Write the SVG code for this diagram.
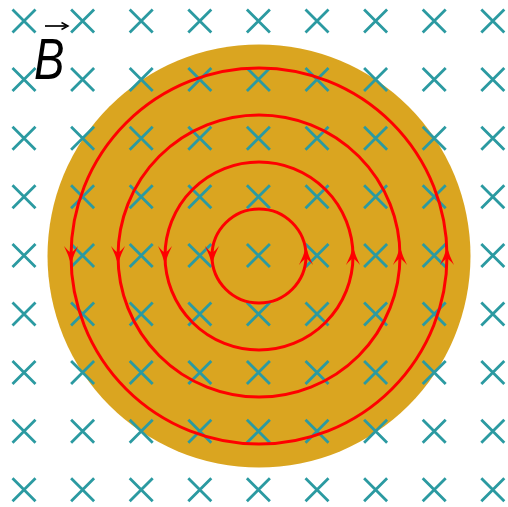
<svg xmlns="http://www.w3.org/2000/svg" width="508" height="507" viewBox="0 0 508 507">
<style>
.x{stroke:#2b9aa1;stroke-width:2.8;fill:none;stroke-linecap:butt}
.loop{fill:none;stroke:#ff0000;stroke-width:3}
.head{fill:#ff0000}
.lbl{font-family:"Liberation Sans",Arial,sans-serif;font-style:italic;font-size:57px;fill:#000}
</style>
<defs>
<path id="x" class="x" d="M-11.5,-11.5L11.5,11.5M-11.5,11.5L11.5,-11.5"/>
<path id="down" class="head" d="M0,0 Q-2.5,-9 -7,-18 Q-2.5,-12.5 0,-11.5 Q2.5,-12.5 7,-18 Q2.5,-9 0,0Z"/>
<path id="up" class="head" d="M0,0 Q-2.5,9 -7,18 Q-2.5,12.5 0,11.5 Q2.5,12.5 7,18 Q2.5,9 0,0Z"/>
</defs>
<rect width="508" height="507" fill="#fff"/>
<g id="disk"><circle cx="259" cy="256" r="211.5" fill="#daa520"/></g>
<g id="field">
<use href="#x" x="24" y="21"/><use href="#x" x="82.6" y="21"/><use href="#x" x="141.2" y="21"/><use href="#x" x="199.8" y="21"/><use href="#x" x="258.4" y="21"/><use href="#x" x="317" y="21"/><use href="#x" x="375.6" y="21"/><use href="#x" x="434.2" y="21"/><use href="#x" x="492.8" y="21"/>
<use href="#x" x="24" y="79.6"/><use href="#x" x="82.6" y="79.6"/><use href="#x" x="141.2" y="79.6"/><use href="#x" x="199.8" y="79.6"/><use href="#x" x="258.4" y="79.6"/><use href="#x" x="317" y="79.6"/><use href="#x" x="375.6" y="79.6"/><use href="#x" x="434.2" y="79.6"/><use href="#x" x="492.8" y="79.6"/>
<use href="#x" x="24" y="138.2"/><use href="#x" x="82.6" y="138.2"/><use href="#x" x="141.2" y="138.2"/><use href="#x" x="199.8" y="138.2"/><use href="#x" x="258.4" y="138.2"/><use href="#x" x="317" y="138.2"/><use href="#x" x="375.6" y="138.2"/><use href="#x" x="434.2" y="138.2"/><use href="#x" x="492.8" y="138.2"/>
<use href="#x" x="24" y="196.8"/><use href="#x" x="82.6" y="196.8"/><use href="#x" x="141.2" y="196.8"/><use href="#x" x="199.8" y="196.8"/><use href="#x" x="258.4" y="196.8"/><use href="#x" x="317" y="196.8"/><use href="#x" x="375.6" y="196.8"/><use href="#x" x="434.2" y="196.8"/><use href="#x" x="492.8" y="196.8"/>
<use href="#x" x="24" y="255.4"/><use href="#x" x="82.6" y="255.4"/><use href="#x" x="141.2" y="255.4"/><use href="#x" x="199.8" y="255.4"/><use href="#x" x="258.4" y="255.4"/><use href="#x" x="317" y="255.4"/><use href="#x" x="375.6" y="255.4"/><use href="#x" x="434.2" y="255.4"/><use href="#x" x="492.8" y="255.4"/>
<use href="#x" x="24" y="314"/><use href="#x" x="82.6" y="314"/><use href="#x" x="141.2" y="314"/><use href="#x" x="199.8" y="314"/><use href="#x" x="258.4" y="314"/><use href="#x" x="317" y="314"/><use href="#x" x="375.6" y="314"/><use href="#x" x="434.2" y="314"/><use href="#x" x="492.8" y="314"/>
<use href="#x" x="24" y="372.6"/><use href="#x" x="82.6" y="372.6"/><use href="#x" x="141.2" y="372.6"/><use href="#x" x="199.8" y="372.6"/><use href="#x" x="258.4" y="372.6"/><use href="#x" x="317" y="372.6"/><use href="#x" x="375.6" y="372.6"/><use href="#x" x="434.2" y="372.6"/><use href="#x" x="492.8" y="372.6"/>
<use href="#x" x="24" y="431.2"/><use href="#x" x="82.6" y="431.2"/><use href="#x" x="141.2" y="431.2"/><use href="#x" x="199.8" y="431.2"/><use href="#x" x="258.4" y="431.2"/><use href="#x" x="317" y="431.2"/><use href="#x" x="375.6" y="431.2"/><use href="#x" x="434.2" y="431.2"/><use href="#x" x="492.8" y="431.2"/>
<use href="#x" x="24" y="489.8"/><use href="#x" x="82.6" y="489.8"/><use href="#x" x="141.2" y="489.8"/><use href="#x" x="199.8" y="489.8"/><use href="#x" x="258.4" y="489.8"/><use href="#x" x="317" y="489.8"/><use href="#x" x="375.6" y="489.8"/><use href="#x" x="434.2" y="489.8"/><use href="#x" x="492.8" y="489.8"/>
</g>
<g id="loops">
<circle class="loop" cx="259" cy="256" r="47"/>
<circle class="loop" cx="259" cy="256" r="94"/>
<circle class="loop" cx="259" cy="256" r="141"/>
<circle class="loop" cx="259" cy="256" r="188"/>
<use href="#down" x="212" y="264"/><use href="#down" x="165" y="264"/><use href="#down" x="118" y="264"/><use href="#down" x="71" y="264"/>
<use href="#up" x="306" y="247"/><use href="#up" x="353" y="247"/><use href="#up" x="400" y="247"/><use href="#up" x="447" y="247"/>
</g>
<g id="label">
<text class="lbl" transform="translate(34,79) scale(0.8,1)">B</text>
<path d="M45,26H66" stroke="#000" stroke-width="1.7" fill="none"/>
<path d="M61.5,22.5L68,26L61.5,29.5" stroke="#000" stroke-width="1.5" fill="none"/>
</g>
</svg>
